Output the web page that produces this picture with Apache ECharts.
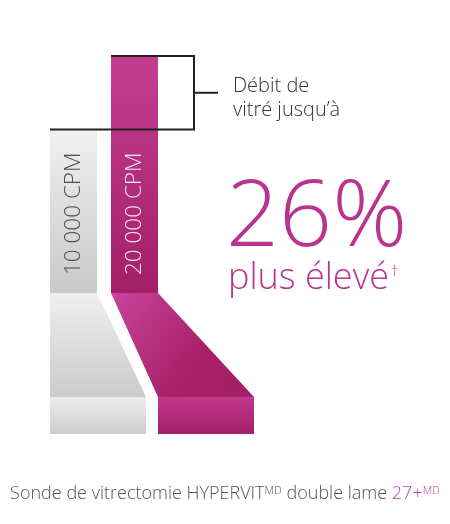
<!DOCTYPE html>
<html lang="fr" style="height: 100%">
<head>
  <meta charset="utf-8">
</head>
<body style="height: 100%; margin: 0; background: #fff">
  <div id="container" style="height: 100%"></div>

  <script type="text/javascript" src="https://fastly.jsdelivr.net/npm/echarts@6/dist/echarts.min.js"></script>

  <script type="text/javascript">
    // data
    var categories = ['10 000 CPM', '20 000 CPM'];
    var barValues = [100, 145];          // relative bar heights
    var increasePct = 26;
    var noteLines = ['Débit de', 'vitré jusqu’à'];
    var captionParts = ['Sonde de vitrectomie HYPERVIT', 'MD', ' double lame ', '27+', 'MD'];

    var FONT = "'Open Sans', 'Noto Sans', sans-serif";
    var BAR_W = 47;
    var FUNNEL_H = 104;
    var BASE_H = 37;
    var BASE_W = 96;
    var BASE_GAP = 12;

    var greyFill = new echarts.graphic.LinearGradient(0, 0, 0, 1, [
      { offset: 0, color: '#f0f0f0' }, { offset: 1, color: '#c9c9c9' }
    ]);
    var pinkFill = new echarts.graphic.LinearGradient(0, 0, 0, 1, [
      { offset: 0, color: '#c33e92' }, { offset: 1, color: '#a31f67' }
    ]);
    var fills = [
      {
        bar: greyFill,
        funnel: new echarts.graphic.LinearGradient(0, 0, 0, 1, [
          { offset: 0, color: '#efefef' }, { offset: 1, color: '#cbcbcb' }
        ]),
        base: new echarts.graphic.LinearGradient(0, 0, 0, 1, [
          { offset: 0, color: '#ececec' }, { offset: 1, color: '#cdcdcd' }
        ])
      },
      {
        bar: pinkFill,
        funnel: new echarts.graphic.LinearGradient(0, 0, 1, 1, [
          { offset: 0, color: '#c9449c' }, { offset: 0.6, color: '#a82169' }, { offset: 1, color: '#a31f66' }
        ]),
        base: new echarts.graphic.LinearGradient(0, 0, 0, 1, [
          { offset: 0, color: '#c1398e' }, { offset: 1, color: '#a41f68' }
        ])
      }
    ];

    var dom = document.getElementById('container');
    var myChart = echarts.init(dom, null, { renderer: 'canvas' });

    function renderFunnel(params, api) {
      var i = params.dataIndex;
      var top = api.coord([i, 0]);
      var g = api.coord([0, 0])[0] - BAR_W / 2;
      var tl = top[0] - BAR_W / 2;
      var y0 = top[1];
      var bl = g + i * (BASE_W + BASE_GAP);
      return {
        type: 'group',
        children: [
          {
            type: 'polygon',
            shape: { points: [[tl, y0], [tl + BAR_W, y0], [bl + BASE_W, y0 + FUNNEL_H], [bl, y0 + FUNNEL_H]] },
            style: { fill: fills[i].funnel }
          },
          {
            type: 'rect',
            shape: { x: bl, y: y0 + FUNNEL_H, width: BASE_W, height: BASE_H },
            style: { fill: fills[i].base }
          }
        ]
      };
    }

    function renderBracket(params, api) {
      var hi = api.coord([1, barValues[1]]);
      var lo = api.coord([0, barValues[0]]);
      var x0 = lo[0] - BAR_W / 2;
      var x1 = hi[0] - BAR_W / 2;
      var xr = hi[0] + BAR_W / 2 + 36;
      var ym = (hi[1] + lo[1]) / 2;
      var ls = { stroke: '#222', lineWidth: 2, fill: null };
      return {
        type: 'group',
        children: [
          { type: 'polyline', shape: { points: [[x1, hi[1]], [xr, hi[1]], [xr, lo[1]], [x0, lo[1]]] }, style: ls },
          { type: 'line', shape: { x1: xr, y1: ym, x2: xr + 24, y2: ym }, style: ls }
        ]
      };
    }

    var option = {
      animation: false,
      grid: { left: 43, width: 122, top: 56, bottom: 231 },
      xAxis: {
        type: 'category',
        data: categories,
        show: false
      },
      yAxis: {
        type: 'value',
        min: 0,
        max: barValues[1],
        show: false
      },
      series: [
        {
          type: 'custom',
          renderItem: renderFunnel,
          data: categories.map(function (c, i) { return [i, 0]; }),
          silent: true,
          z: 1
        },
        {
          type: 'bar',
          barWidth: BAR_W,
          data: barValues.map(function (v, i) {
            return {
              value: v,
              itemStyle: { color: fills[i].bar },
              label: { color: i === 0 ? '#4d4d4d' : '#f8e6f0' }
            };
          }),
          label: {
            show: true,
            formatter: '{b}',
            position: 'insideBottom',
            distance: 18,
            rotate: 90,
            align: 'left',
            verticalAlign: 'middle',
            fontFamily: FONT,
            fontWeight: 300,
            fontSize: 22.5
          },
          z: 2
        },
        {
          type: 'custom',
          renderItem: renderBracket,
          data: [[1, barValues[1]]],
          silent: true,
          z: 3
        }
      ],
      graphic: [
        {
          type: 'text',
          left: 233,
          top: 74,
          style: {
            text: noteLines.join('\n'),
            font: '300 20px ' + FONT,
            lineHeight: 24,
            fill: '#333'
          }
        },
        {
          type: 'text',
          left: 226,
          top: 173,
          style: {
            text: increasePct + '%',
            font: '300 93px ' + FONT,
            fill: '#b9348f'
          }
        },
        {
          type: 'text',
          left: 228,
          top: 261,
          style: {
            text: '{a|plus élevé}{s|†}',
            rich: {
              a: { font: '300 36px ' + FONT, fill: '#b9348f', verticalAlign: 'bottom' },
              s: { font: '300 15px ' + FONT, fill: '#b9348f', verticalAlign: 'top', padding: [3, 0, 0, 2] }
            }
          }
        },
        {
          type: 'text',
          left: 'center',
          top: 485,
          style: {
            text: '{t|' + captionParts[0] + '}{s|' + captionParts[1] + '}{t|' + captionParts[2] + '}{m|' + captionParts[3] + '}{ms|' + captionParts[4] + '}',
            rich: {
              t: { font: '300 18px ' + FONT, fill: '#555', verticalAlign: 'bottom' },
              s: { font: '300 11px ' + FONT, fill: '#555', verticalAlign: 'top' },
              m: { font: '300 18px ' + FONT, fill: '#c2399a', verticalAlign: 'bottom' },
              ms: { font: '300 11px ' + FONT, fill: '#c2399a', verticalAlign: 'top' }
            }
          }
        }
      ]
    };

    myChart.setOption(option);
    window.addEventListener('resize', myChart.resize);
  </script>
</body>
</html>
